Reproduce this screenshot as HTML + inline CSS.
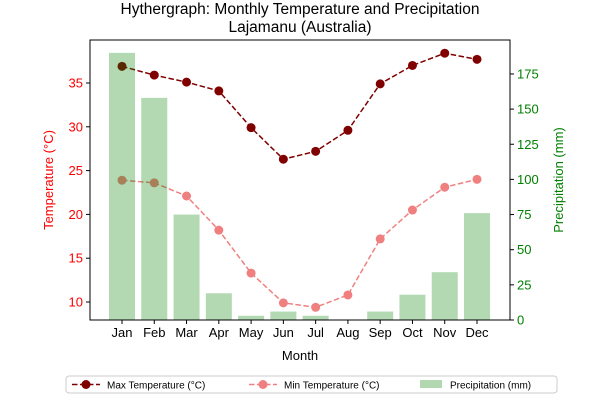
<!DOCTYPE html>
<html><head><meta charset="utf-8"><style>
body{margin:0;background:#fff;font-family:"Liberation Sans","DejaVu Sans",sans-serif}
svg text{font-family:"Liberation Sans","DejaVu Sans",sans-serif}
</style></head><body>
<svg id="c" width="600" height="400" viewBox="0 0 600 400"></svg>
<script>
const months=["Jan","Feb","Mar","Apr","May","Jun","Jul","Aug","Sep","Oct","Nov","Dec"];
const maxTemp=[36.9,35.9,35.1,34.1,29.9,26.3,27.2,29.6,34.9,37.0,38.4,37.7];
const minTemp=[23.9,23.6,22.1,18.2,13.3,9.9,9.4,10.8,17.2,20.5,23.1,24.0];
const precip=[190,158,75,19,3,6,3,0,6,18,34,76];
const tempTicks=[10,15,20,25,30,35];
const precipTicks=[0,25,50,75,100,125,150,175];
const L=90,R=510,T=40,B=320;
const svg=document.getElementById('c');const NS="http://www.w3.org/2000/svg";
function mk(t,a,txt){const e=document.createElementNS(NS,t);for(const k in a)e.setAttribute(k,a[k]);if(txt!=null)e.textContent=txt;svg.appendChild(e);return e;}
const x=i=>122+i*(477-122)/11;
const yT=v=>302-(v-10)*8.76;
const yP=v=>320-v*1.406;
let t=mk('text',{x:300,y:14,'text-anchor':'middle','font-size':15.5},'Hythergraph: Monthly Temperature and Precipitation');

t=mk('text',{x:300,y:32,'text-anchor':'middle','font-size':15.5},'Lajamanu (Australia)');

function line(arr,col,name){const p=mk('polyline',{points:arr.map((v,i)=>x(i)+','+yT(v)).join(' '),fill:'none',stroke:col,'stroke-width':1.5,'stroke-dasharray':'5.5,2.5'});

arr.forEach((v,i)=>{const c=mk('circle',{cx:x(i),cy:yT(v),r:4.5,fill:col});});}
line(minTemp,'#f08080','min-temp');line(maxTemp,'#800000','max-temp');
precip.forEach((v,i)=>{const b=mk('rect',{x:x(i)-13,y:yP(v),width:26,height:B-yP(v),fill:'#008000','fill-opacity':0.3});
});
let f=mk('rect',{x:L,y:T,width:R-L,height:B-T,fill:'none',stroke:'#000','stroke-width':1});

months.forEach((m,i)=>{mk('line',{x1:x(i),x2:x(i),y1:B,y2:B+4,stroke:'#000'});
const e=mk('text',{x:x(i),y:B+17,'text-anchor':'middle','font-size':13},m);});
tempTicks.forEach(v=>{mk('line',{x1:L-4,x2:L,y1:yT(v),y2:yT(v),stroke:'#000'});
const e=mk('text',{x:L-7,y:yT(v)+4.5,'text-anchor':'end','font-size':13,fill:'red'},v);});
precipTicks.forEach(v=>{mk('line',{x1:R,x2:R+4,y1:yP(v),y2:yP(v),stroke:'#000'});
const e=mk('text',{x:R+7,y:yP(v)+4.5,'font-size':13,fill:'green'},v);});
t=mk('text',{x:300,y:360,'text-anchor':'middle','font-size':13},'Month');
t=mk('text',{x:0,y:0,'text-anchor':'middle','font-size':13,fill:'red',transform:'translate(53,180) rotate(-90)'},'Temperature (°C)');
t=mk('text',{x:0,y:0,'text-anchor':'middle','font-size':13,fill:'green',transform:'translate(563,180) rotate(-90)'},'Precipitation (mm)');
const lg=mk('rect',{x:66,y:376,width:491,height:17,rx:3,fill:'#fff',stroke:'#ccc'});
mk('line',{x1:72,x2:100,y1:384.5,y2:384.5,stroke:'#800000','stroke-width':1.5,'stroke-dasharray':'5.5,2.5'});mk('circle',{cx:86,cy:384.5,r:4.5,fill:'#800000'});
t=mk('text',{x:107,y:388.5,'font-size':10},'Max Temperature (°C)');
mk('line',{x1:249,x2:277,y1:384.5,y2:384.5,stroke:'#f08080','stroke-width':1.5,'stroke-dasharray':'5.5,2.5'});mk('circle',{cx:263,cy:384.5,r:4.5,fill:'#f08080'});
t=mk('text',{x:284,y:388.5,'font-size':10},'Min Temperature (°C)');
mk('rect',{x:420,y:380,width:22,height:8,fill:'#b2d8b2'});
t=mk('text',{x:450,y:388.5,'font-size':10},'Precipitation (mm)');
</script>
</body></html>
